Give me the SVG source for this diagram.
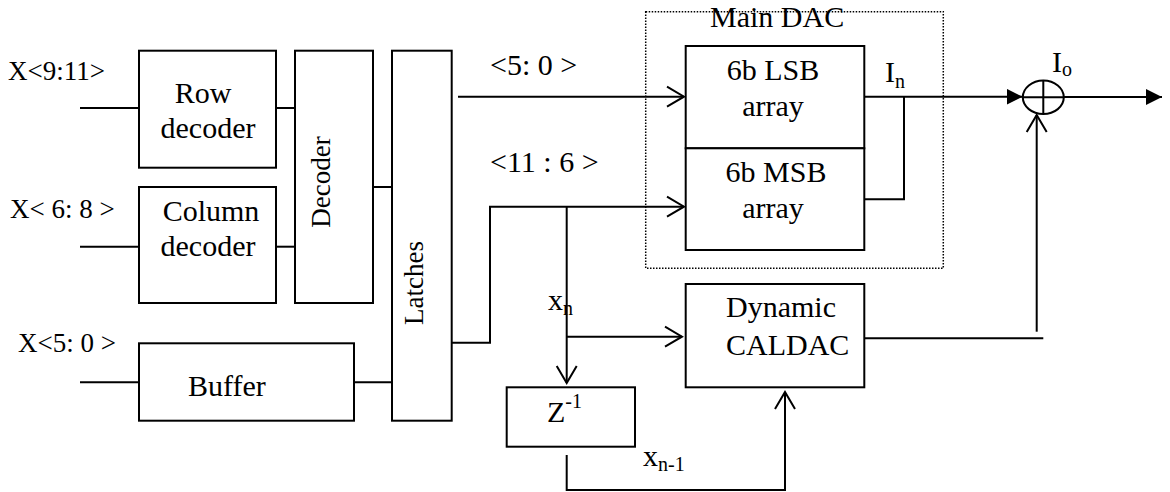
<svg xmlns="http://www.w3.org/2000/svg" width="1170" height="492" viewBox="0 0 1170 492" font-family="'Liberation Serif', 'Times New Roman', Times, serif">
<style>
.box{fill:#fff;stroke:#000;stroke-width:2}
.ln{fill:none;stroke:#000;stroke-width:2}
text{fill:#000}
.t30{font-size:30px}
.t27{font-size:27px}
.sub{font-size:20px}
</style>
<defs>
<marker id="open" markerUnits="userSpaceOnUse" markerWidth="20" markerHeight="24" viewBox="0 0 20 24" refX="18" refY="12" orient="auto">
<path d="M1,2 L18,12 L1,22" fill="none" stroke="#000" stroke-width="2"/>
</marker>
<marker id="fill" markerUnits="userSpaceOnUse" markerWidth="16" markerHeight="16" viewBox="0 0 16 16" refX="16" refY="8" orient="auto">
<path d="M0,0 L16,8 L0,16 Z" fill="#000"/>
</marker>
</defs>
<rect width="1170" height="492" fill="#fff"/>

<g id="main-dac">
<rect x="645.7" y="11.7" width="297.6" height="256.6" fill="none" stroke="#000" stroke-width="1.5" stroke-dasharray="1.5 1.5"/>
<text class="t30" x="710" y="27">Main DAC</text>
</g>

<g id="connectors">
<path class="ln" d="M80,108 H139"/>
<path class="ln" d="M276,108 H295"/>
<path class="ln" d="M80,246.7 H139"/>
<path class="ln" d="M276,246.7 H295"/>
<path class="ln" d="M373,187 H392"/>
<path class="ln" d="M80,382.3 H139"/>
<path class="ln" d="M354,382.3 H392"/>
<path class="ln" d="M458,96.7 H684" marker-end="url(#open)"/>
<path class="ln" d="M451.7,342.7 H490 V206.7 H684" marker-end="url(#open)"/>
<path class="ln" d="M566.7,206.7 V383" marker-end="url(#open)"/>
<path class="ln" d="M566.7,336.7 H682" marker-end="url(#open)"/>
<path class="ln" d="M864.3,96.7 H1022.5" marker-end="url(#fill)"/>
<path class="ln" d="M864.3,199.3 H904 V96.7"/>
<path class="ln" d="M1064,97 H1162" marker-end="url(#fill)"/>
<path class="ln" d="M864.3,338.3 H1043.3"/>
<path class="ln" d="M1036.7,331.7 V115" marker-end="url(#open)"/>
<path class="ln" d="M566.7,455 V490 H785 V392" marker-end="url(#open)"/>
</g>

<g id="row-decoder">
<rect class="box" x="139" y="50.7" width="137" height="117"/>
<text class="t30" x="203" y="103" text-anchor="middle">Row</text>
<text class="t30" x="208" y="138" text-anchor="middle">decoder</text>
</g>
<g id="column-decoder">
<rect class="box" x="139" y="187" width="137" height="116"/>
<text class="t30" x="211" y="221" text-anchor="middle">Column</text>
<text class="t30" x="208" y="256" text-anchor="middle">decoder</text>
</g>
<g id="decoder">
<rect class="box" x="295" y="50.7" width="78" height="252.3"/>
<text class="t27" transform="translate(330,182) rotate(-90)" text-anchor="middle">Decoder</text>
</g>
<g id="buffer">
<rect class="box" x="139" y="343.3" width="215" height="77.4"/>
<text class="t30" x="227" y="396" text-anchor="middle">Buffer</text>
</g>
<g id="latches">
<rect class="box" x="392" y="50.7" width="59.7" height="370"/>
<text class="t27" transform="translate(423,283) rotate(-90)" text-anchor="middle">Latches</text>
</g>
<g id="lsb-array">
<rect class="box" x="685.7" y="46" width="178.6" height="102.3"/>
<text class="t30" x="773" y="80" text-anchor="middle">6b LSB</text>
<text class="t30" x="773" y="116" text-anchor="middle">array</text>
</g>
<g id="msb-array">
<rect class="box" x="685.7" y="148.3" width="178.6" height="101.7"/>
<text class="t30" x="776" y="182" text-anchor="middle">6b MSB</text>
<text class="t30" x="773" y="218" text-anchor="middle">array</text>
</g>
<g id="caldac">
<rect class="box" x="685.7" y="284" width="178.6" height="103.3"/>
<text class="t30" x="726" y="317">Dynamic</text>
<text class="t30" x="726" y="355">CALDAC</text>
</g>
<g id="z-delay">
<rect class="box" x="506.7" y="387.3" width="128.3" height="59.4"/>
<text class="t30" x="547" y="422">Z<tspan class="sub" dy="-14">-1</tspan></text>
</g>
<g id="summer">
<ellipse cx="1043.3" cy="97.3" rx="20.5" ry="16.7" fill="none" stroke="#000" stroke-width="2"/>
<path class="ln" d="M1043.3,80.6 V114 M1022.8,97.3 H1063.8"/>
<text class="t30" x="1052" y="72">I<tspan class="sub" dy="4">o</tspan></text>
</g>

<g id="labels">
<text class="t27" x="8" y="80">X&lt;9:11&gt;</text>
<text class="t27" x="10" y="218">X&lt; 6: 8 &gt;</text>
<text class="t27" x="18" y="352">X&lt;5: 0 &gt;</text>
<text class="t30" x="490" y="75">&lt;5: 0 &gt;</text>
<text class="t30" x="490" y="172">&lt;11 : 6 &gt;</text>
<text class="t30" x="885" y="82">I<tspan class="sub" dy="6">n</tspan></text>
<text class="t30" x="548" y="310">x<tspan class="sub" dy="5">n</tspan></text>
<text class="t30" x="643" y="466">x<tspan class="sub" dy="5">n-1</tspan></text>
</g>
</svg>
